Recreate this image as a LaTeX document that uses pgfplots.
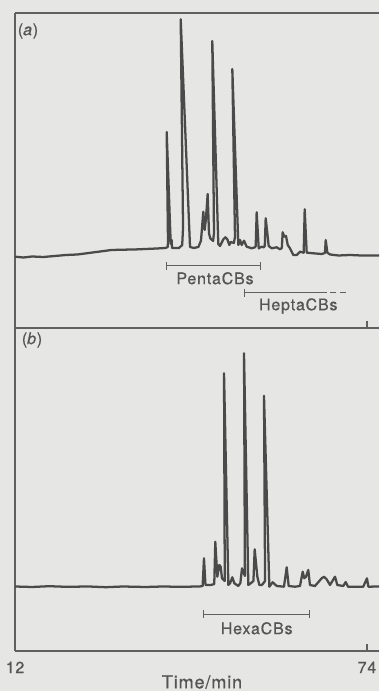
\documentclass[border=0pt]{standalone}
\usepackage{pgfplots}
\pgfplotsset{compat=1.18}
\usepackage{fontspec}
\setmainfont[LetterSpace=5,FakeBold=0.7]{TeX Gyre Heros}
\definecolor{bg}{HTML}{E6E6E4}
\definecolor{ink}{HTML}{4A4A4A}
\definecolor{txt}{HTML}{555555}
\definecolor{frame}{HTML}{606060}
\tikzset{
  trace/.style={ink, line width=1.7pt, line join=round},
  ann/.style={frame, line width=0.8pt},
}
\begin{document}
\begin{tikzpicture}
\fill[bg] (0pt,0pt) rectangle (284.25pt,518.25pt);
\path[use as bounding box] (0pt,0pt) rectangle (284.25pt,518.25pt);
\pgfplotsset{
  chrom/.style={
    scale only axis, width=273pt,
    xmin=12, xmax=76.12, ymin=0,
    axis x line*=box, axis y line*=left,
    axis line style={frame, line width=0.9pt},
    ytick=\empty,
    xtick={12,74}, xtick pos=left, tick align=inside,
    major tick length=5pt,
    tick style={frame, line width=0.9pt},
    clip=false,
  },
}
% ---------- panel (a)
\begin{axis}[chrom, at={(11.25pt,272.25pt)}, anchor=south west,
  height=236.25pt, ymax=315, xticklabels={,}]
\addplot[trace, no marks] coordinates {
(12.0,71.3) (13.5,70.5) (15,71.5) (17,71) (19,72) (21,73) (23,73.5) (25,75) (27,76.5) (29,78) (31,78.3) (33,78.5) (35,79) (37,79.5) (38.5,80) (38.9,81) (38.95,86) (38.72,196) (39.43,84) (39.5,88) (39.6,88) (39.65,80) (40.9,80) (41.45,83) (41.6,100) (41.19,308.7) (42.83,81) (43.5,80) (44.3,81) (44.76,87.3) (45.17,116.3) (45.41,98) (45.64,109.7) (45.94,134) (46.17,94.7) (46.40,89.7) (46.9,87) (47.05,95) (46.75,287) (47.81,84) (48.11,82) (48.70,88.7) (49.05,90.7) (49.40,88.7) (49.75,83) (50.0,86) (50.55,85) (50.75,91) (50.28,259) (51.34,83) (51.63,88) (51.93,83) (52.34,87.3) (52.81,81.3) (53.69,79.7) (54.27,80.7) (54.4,82) (54.57,115.7) (54.93,79.7) (55.45,81.3) (55.8,80.7) (56.0,82) (56.16,109.7) (56.45,94.7) (56.69,82) (57.22,79.7) (58.1,80.7) (58.68,78.7) (59.0,80) (59.15,95.7) (59.44,91.3) (59.74,92) (60.04,83) (60.44,79.7) (61.03,73) (61.62,73) (62.2,76.3) (62.85,75.3) (63.03,118.7) (63.38,75.3) (64.55,74.7) (66.02,74) (66.6,75) (66.73,88) (67.02,75.3) (67.5,73.5) (69,72.5) (71,73) (73,72.5) (76.12,72.5)
};
\node[font=\fontsize{12}{14}\selectfont, text=txt] at (axis cs:14.29,297) {(\textit{a})};
\draw[ann] (axis cs:38.72,62.3) -- (axis cs:55.28,62.3);
\draw[ann] (axis cs:38.72,58.3) -- (axis cs:38.72,66.3);
\draw[ann] (axis cs:55.28,58.3) -- (axis cs:55.28,66.3);
\node[font=\fontsize{12}{14}\selectfont, text=txt] at (axis cs:47.23,49.7) {PentaCBs};
\draw[ann] (axis cs:52.39,35.3) -- (axis cs:66.9,35.3);
\draw[ann] (axis cs:52.39,31.3) -- (axis cs:52.39,39.3);
\draw[ann, dash pattern=on 4.5pt off 3pt] (axis cs:67.49,35.3) -- (axis cs:70.43,35.3);
\node[font=\fontsize{12}{14}\selectfont, text=txt] at (axis cs:61.9,22) {HeptaCBs};
\end{axis}
% ---------- panel (b)
\begin{axis}[chrom, at={(11.25pt,30pt)}, anchor=south west,
  height=242.25pt, ymax=323, xticklabels={12,74},
  xticklabel style={font=\fontsize{12}{14}\selectfont, text=txt, yshift=-4.5pt}]
\addplot[trace, no marks] coordinates {
(12,64.5) (15,64) (18,64.8) (21,64.2) (25,64.5) (28,63.8) (31,64.5) (35,64) (38,64.5) (41,64.2) (44.5,64.5) (45.05,65) (45.29,92.7) (45.55,66) (46.5,66) (47.1,67) (47.28,109.3) (47.64,74.3) (47.99,86) (48.23,84.3) (48.46,72.7) (48.95,70) (48.82,277.7) (49.58,66) (49.88,67.7) (50.28,73.7) (50.64,67.7) (51.34,65) (51.7,68) (51.99,82.7) (52.5,75) (52.34,297.7) (53.10,66) (53.52,67.7) (54.0,70) (54.22,101.7) (54.69,74.3) (55.04,66) (55.5,66) (56.05,70) (55.86,255.3) (56.80,64.3) (57.39,68.7) (58.1,65) (59.38,64.3) (59.86,83.7) (60.21,65) (61.32,64.3) (62.2,65) (62.68,79.3) (62.96,72.7) (63.26,74.3) (63.66,81) (63.96,66) (64.84,65) (66.02,72.7) (66.43,74.3) (66.9,71.7) (67.49,66) (68.37,74.3) (68.78,66) (69.83,65) (70.25,69) (70.66,64.3) (73.35,64.3) (74.0,72.7) (74.25,64.3) (76.12,64.5)
};
\node[font=\fontsize{12}{14}\selectfont, text=txt] at (axis cs:15.0,311) {(\textit{b})};
\draw[ann] (axis cs:45.17,36.7) -- (axis cs:63.84,36.7);
\draw[ann] (axis cs:45.17,32.7) -- (axis cs:45.17,40.7);
\draw[ann] (axis cs:63.84,32.7) -- (axis cs:63.84,40.7);
\node[font=\fontsize{12}{14}\selectfont, text=txt] at (axis cs:54.57,22.7) {HexaCBs};
\end{axis}
\node[font=\fontsize{13.5}{15}\selectfont, text=txt] at (151.5pt,6.75pt) {Time/min};
\end{tikzpicture}
\end{document}
